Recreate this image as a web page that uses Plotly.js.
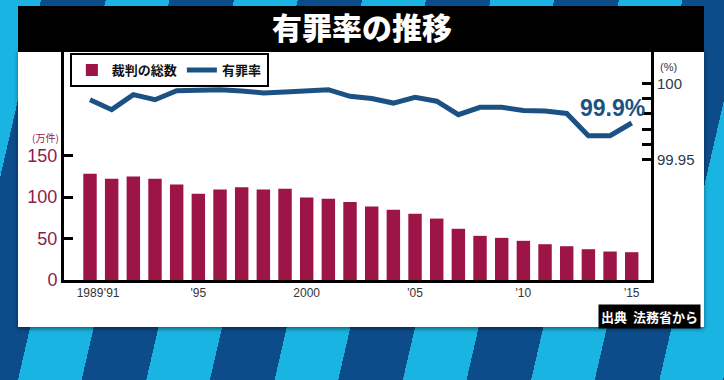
<!DOCTYPE html>
<html>
<head>
<meta charset="utf-8">
<script src="https://cdn.plot.ly/plotly-3.0.1.min.js"></script>
<style>
  html, body { margin: 0; padding: 0; }
  body {
    width: 724px; height: 380px; overflow: hidden; position: relative;
    background: repeating-linear-gradient(103deg, #1ab4e2 0px, #1ab4e2 40px, #0c4c8b 40px, #0c4c8b 103px, #1ab4e2 103px, #1ab4e2 125px);
  }
  #panel { position: absolute; left: 18px; top: 50px; width: 686px; height: 277px; background: #ffffff; box-shadow: 0 2px 4px rgba(0,0,0,0.45); }
  #bar { position: absolute; left: 18px; top: 6px; width: 686px; height: 46px; background: #000000; }
  #chart { position: absolute; left: 0; top: 0; width: 724px; height: 380px; }
</style>
</head>
<body>
<div id="panel"></div>
<div id="bar"></div>
<div id="chart"></div>
<script>
// Data
const years = [1990,1991,1992,1993,1994,1995,1996,1997,1998,1999,2000,2001,2002,2003,2004,2005,2006,2007,2008,2009,2010,2011,2012,2013,2014,2015];
const trials = [128,122,124.6,122,115,104,109,111.6,109,110,99.5,98,94,88.7,84.7,79.8,74,61.7,53.2,50.8,47.2,43.1,40.7,37.1,34.3,33.5];
const convictionRate = [99.9893,99.9828,99.9926,99.9893,99.9952,99.9953,99.9958,99.9950,99.9937,99.9943,99.9950,99.9958,99.9915,99.9901,99.9871,99.9909,99.9883,99.9795,99.9843,99.9843,99.9823,99.9819,99.9803,99.9658,99.9658,99.9741];
const tickYears = [1990,1991,1995,2000,2005,2010,2015];
const tickLabels = ["1989","'91","'95","2000","'05","'10","'15"];
const leftTicks = [0,50,100,150];
const rightTicks = [99.95,99.96,99.97,99.98,99.99,100];
const rightTickLabels = ["99.95","","","","","100"];
const seriesNames = ["裁判の総数","有罪率"];

const maroon = "#9d1546";
const navy = "#1c5283";

const traces = [
  { type: "bar", x: years, y: trials, name: seriesNames[0], marker: { color: maroon }, width: 0.62, yaxis: "y" },
  { type: "scatter", mode: "lines", x: years, y: convictionRate, name: seriesNames[1], yaxis: "y2",
    line: { color: navy, width: 5 } }
];

const layout = {
  width: 724, height: 380,
  margin: { l: 64, r: 73, t: 52, b: 100, pad: 0 },
  paper_bgcolor: "rgba(0,0,0,0)",
  plot_bgcolor: "rgba(0,0,0,0)",
  showlegend: true,
  title: { text: "有罪率の推移", xref: "container", yref: "container", x: 0.5, y: 0.924, xanchor: "center", yanchor: "middle",
    font: { family: "Noto Sans CJK JP", size: 30, color: "#ffffff", weight: 900 } },
  legend: { orientation: "h", x: 0.01, y: 0.995, xanchor: "left", yanchor: "top", bgcolor: "#ffffff",
    bordercolor: "#000000", borderwidth: 2, font: { family: "Noto Sans CJK JP", size: 13, color: "#111111", weight: 700 },
    traceorder: "normal" },
  xaxis: { range: [1988.8, 2015.89], tickmode: "array", tickvals: tickYears, ticktext: tickLabels, tickangle: 0,
    showline: true, linewidth: 3, linecolor: "#000000", ticks: "", showgrid: false, zeroline: false,
    tickfont: { family: "Liberation Sans, Arial, sans-serif", size: 12, color: "#333333" } },
  yaxis: { range: [0, 274.7], tickmode: "array", tickvals: leftTicks, ticks: "inside", ticklen: 9, tickwidth: 3, tickcolor: "#000000",
    showline: true, linewidth: 3, linecolor: "#000000", showgrid: false, zeroline: false,
    tickfont: { family: "Liberation Sans, Arial, sans-serif", size: 18, color: "#8c1c4e" } },
  yaxis2: { overlaying: "y", side: "right", range: [99.8717, 100.0204], tickmode: "array", tickvals: rightTicks, ticktext: rightTickLabels,
    ticks: "inside", ticklen: 9, tickwidth: 3, tickcolor: "#000000", showline: true, linewidth: 3, linecolor: "#000000",
    showgrid: false, zeroline: false,
    tickfont: { family: "Liberation Sans, Arial, sans-serif", size: 15, color: "#2b3a4a" } },
  bargap: 0.38,
  annotations: [
    { text: "(万件)", xref: "paper", yref: "paper", x: -0.032, y: 0.623, xanchor: "center", yanchor: "middle", showarrow: false,
      font: { family: "Noto Sans CJK JP", size: 10, color: "#8c1c4e" } },
    { text: "(%)", xref: "paper", yref: "paper", x: 1.03, y: 0.935, xanchor: "center", yanchor: "middle", showarrow: false,
      font: { family: "Liberation Sans, Arial, sans-serif", size: 11, color: "#2b3a4a" } },
    { text: "99.9%", xref: "x", yref: "y2", x: 2014.1, y: 99.9839, xanchor: "center", yanchor: "middle", showarrow: false,
      font: { family: "Liberation Sans, Arial, sans-serif", size: 23, color: navy, weight: 700 } },
    { text: "出典  法務省から", xref: "paper", yref: "paper", x: 1.085, y: -0.158, xanchor: "right", yanchor: "middle", showarrow: false,
      bgcolor: "#000000", borderpad: 2, font: { family: "Noto Sans CJK JP", size: 13, color: "#ffffff", weight: 700 } }
  ]
};

Plotly.newPlot("chart", traces, layout, { displayModeBar: false, staticPlot: true });
</script>
</body>
</html>
